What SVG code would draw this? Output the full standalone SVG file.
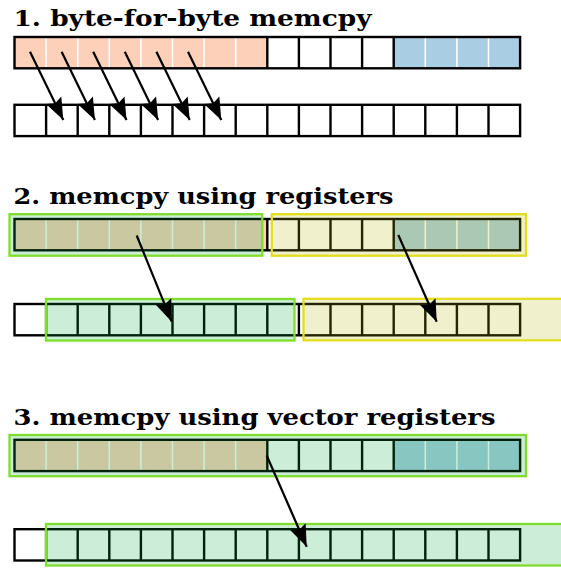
<svg xmlns="http://www.w3.org/2000/svg" xmlns:xlink="http://www.w3.org/1999/xlink" width="561" height="568" viewBox="0 0 561 568">
<style>
.title{font-family:"DejaVu Serif","Liberation Serif",serif;font-weight:bold;font-size:22px;fill:#000}
.cellbox{fill:none;stroke:#000;stroke-width:2.4}
.blk{stroke:#000;stroke-width:2.4}
.wht{stroke:#fff;stroke-width:1.5}
.ovg{fill:rgb(0,170,60);fill-opacity:.2;stroke:#80dd2c;stroke-width:2.3}
.ovy{fill:rgb(180,180,0);fill-opacity:.2;stroke:#e2de1e;stroke-width:2.3}
.arr{stroke:#000;stroke-width:2.2;fill:none;marker-end:url(#head)}
</style>
<defs>
<marker id="head" markerUnits="userSpaceOnUse" viewBox="-24 -11 26 22" refX="0" refY="0" markerWidth="26" markerHeight="22" orient="auto">
<path d="M0,0 L-22,-8.5 L-18.5,0 L-22,8.5 Z" fill="#000"/>
</marker>
<g id="src">
<rect x="14.5" y="0" width="252.8" height="31.3" fill="#fcd0b9"/>
<rect x="393.7" y="0" width="126.4" height="31.3" fill="#a9cde3"/>
<path class="wht" d="M46.1,0V31.3M77.7,0V31.3M109.3,0V31.3M140.9,0V31.3M172.5,0V31.3M204.1,0V31.3M235.7,0V31.3M425.3,0V31.3M456.9,0V31.3M488.5,0V31.3"/>
<path class="blk" d="M267.3,0V31.3M298.9,0V31.3M330.5,0V31.3M362.1,0V31.3M393.7,0V31.3"/>
<rect class="cellbox" x="14.5" y="0" width="505.6" height="31.3"/>
</g>
<g id="dst">
<rect x="14.5" y="0" width="505.6" height="31.3" fill="#fff"/>
<path class="blk" d="M46.1,0V31.3M77.7,0V31.3M109.3,0V31.3M140.9,0V31.3M172.5,0V31.3M204.1,0V31.3M235.7,0V31.3M267.3,0V31.3M298.9,0V31.3M330.5,0V31.3M362.1,0V31.3M393.7,0V31.3M425.3,0V31.3M456.9,0V31.3M488.5,0V31.3"/>
<rect class="cellbox" x="14.5" y="0" width="505.6" height="31.3"/>
</g>
</defs>
<rect width="561" height="568" fill="#fff"/>

<g id="section1">
<text class="title" x="13.5" y="26" textLength="358" lengthAdjust="spacingAndGlyphs">1. byte-for-byte memcpy</text>
<g id="s1-source"><use xlink:href="#src" transform="translate(0,37)"/></g>
<g id="s1-dest"><use xlink:href="#dst" transform="translate(0,104.8)"/></g>
</g>

<g id="section2">
<text class="title" x="13.5" y="203.5" textLength="380" lengthAdjust="spacingAndGlyphs">2. memcpy using registers</text>
<g id="s2-source"><use xlink:href="#src" transform="translate(0,219)"/></g>
<g id="s2-dest"><use xlink:href="#dst" transform="translate(0,304)"/></g>
<g id="s2-reg-src-a"><rect class="ovg" x="9.5" y="214.2" width="252.8" height="41.5"/></g>
<g id="s2-reg-src-b"><rect class="ovy" x="271.8" y="214.2" width="254.2" height="41.5"/></g>
<g id="s2-reg-dst-a"><rect class="ovg" x="46" y="299" width="248.5" height="41.5"/></g>
<g id="s2-reg-dst-b"><rect class="ovy" x="303.5" y="298.8" width="270" height="41.5"/></g>
</g>

<g id="section3">
<text class="title" x="13.5" y="425" textLength="482" lengthAdjust="spacingAndGlyphs">3. memcpy using vector registers</text>
<g id="s3-source"><use xlink:href="#src" transform="translate(0,439.8)"/></g>
<g id="s3-dest"><use xlink:href="#dst" transform="translate(0,529.2)"/></g>
<g id="s3-vreg-src"><rect class="ovg" x="9.5" y="435" width="516.5" height="41.2"/></g>
<g id="s3-vreg-dst"><rect class="ovg" x="46" y="524" width="530" height="41.5"/></g>
</g>

<g id="connectors">
<line class="arr" x1="30" y1="51.7" x2="63.3" y2="120"/>
<line class="arr" x1="61.6" y1="51.7" x2="94.9" y2="120"/>
<line class="arr" x1="93.2" y1="51.7" x2="126.5" y2="120"/>
<line class="arr" x1="124.8" y1="51.7" x2="158.1" y2="120"/>
<line class="arr" x1="156.4" y1="51.7" x2="189.7" y2="120"/>
<line class="arr" x1="188" y1="51.7" x2="221.3" y2="120"/>
<line class="arr" x1="136.7" y1="235.5" x2="171.7" y2="321.7"/>
<line class="arr" x1="398.3" y1="235" x2="436.7" y2="321.7"/>
<line class="arr" x1="266.7" y1="455.5" x2="306.7" y2="546.7"/>
</g>
</svg>
